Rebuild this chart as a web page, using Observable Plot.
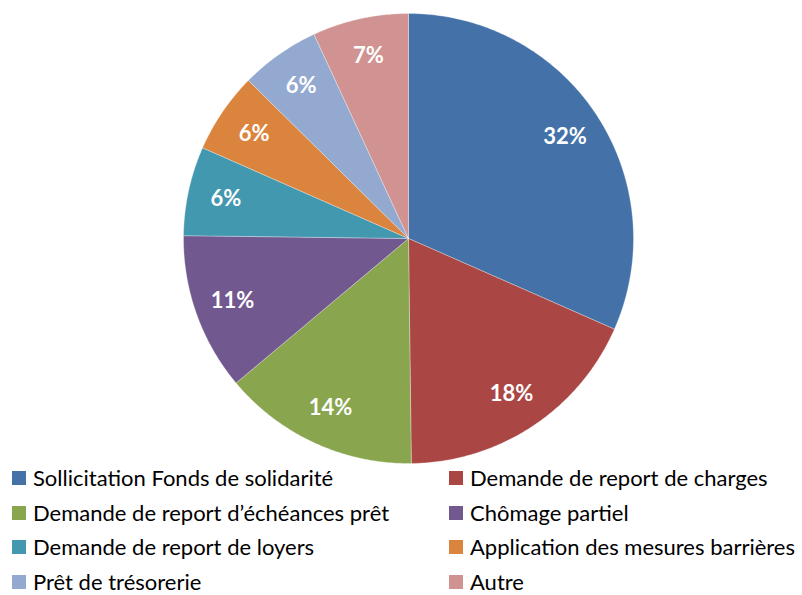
<!DOCTYPE html>
<html>
<head>
<meta charset="utf-8">
<script src="https://cdn.jsdelivr.net/npm/d3@7"></script>
<script src="https://cdn.jsdelivr.net/npm/@observablehq/plot@0.6"></script>
<style>
  html, body { margin: 0; padding: 0; background: #fff; }
  body { width: 802px; height: 595px; overflow: hidden; font-family: Lato, "Open Sans", sans-serif; }
  #chart svg { display: block; }
  #legend { display: grid; grid-template-columns: 437px 365px; row-gap: 14.6px; margin-top: 0px; }
  .item { display: flex; align-items: center; height: 20px; line-height: 20px; font-size: 22px; color: #000; white-space: nowrap; }
  .sw { width: 14px; height: 14px; margin-left: 12px; margin-right: 7px; flex: none; }
</style>
</head>
<body>
<div id="chart"></div>
<div id="legend"></div>
<script>
const categories = [
  "Sollicitation Fonds de solidarité",
  "Demande de report de charges",
  "Demande de report d’échéances prêt",
  "Chômage partiel",
  "Demande de report de loyers",
  "Application des mesures barrières",
  "Prêt de trésorerie",
  "Autre"
];
const values = [31.6, 18.2, 14.1, 11.3, 6.4, 5.8, 5.7, 6.9];
const colors = ["#4472A8", "#AA4644", "#89A54E", "#71588F", "#4298AF", "#DB843D", "#93A9CF", "#D09391"];

const R = 225;
const total = d3.sum(values);
const slices = [];
let acc = 0;
values.forEach((v, i) => {
  const a0 = acc / total * 2 * Math.PI;
  acc += v;
  const a1 = acc / total * 2 * Math.PI;
  const pts = [{x: 0, y: 0}];
  const n = Math.max(2, Math.ceil((a1 - a0) / 0.01));
  for (let k = 0; k <= n; k++) {
    const a = a0 + (a1 - a0) * k / n;
    pts.push({x: R * Math.sin(a), y: R * Math.cos(a)});
  }
  pts.push({x: 0, y: 0});
  const am = (a0 + a1) / 2;
  slices.push({i, pts, lx: 0.83 * R * Math.sin(am), ly: 0.83 * R * Math.cos(am), label: Math.round(v) + "%"});
});

const marks = slices.map(s => Plot.line(s.pts, {x: "x", y: "y", fill: colors[s.i], stroke: "#fff", strokeWidth: 0.5, strokeOpacity: 0.6, curve: "linear"}));
marks.push(Plot.text(slices, {x: "lx", y: "ly", text: "label", fill: "#fff", fontSize: 22, fontWeight: "bold", fontFamily: "Lato, sans-serif"}));

const chart = Plot.plot({
  width: 802,
  height: 468,
  margin: 0,
  x: {domain: [-408, 394], axis: null},
  y: {domain: [-230, 238], axis: null},
  marks
});
document.getElementById("chart").appendChild(chart);

const legend = document.getElementById("legend");
categories.forEach((c, i) => {
  const d = document.createElement("div");
  d.className = "item";
  const sw = document.createElement("span");
  sw.className = "sw";
  sw.style.background = colors[i];
  d.appendChild(sw);
  d.appendChild(document.createTextNode(c));
  legend.appendChild(d);
});
</script>
</body>
</html>
